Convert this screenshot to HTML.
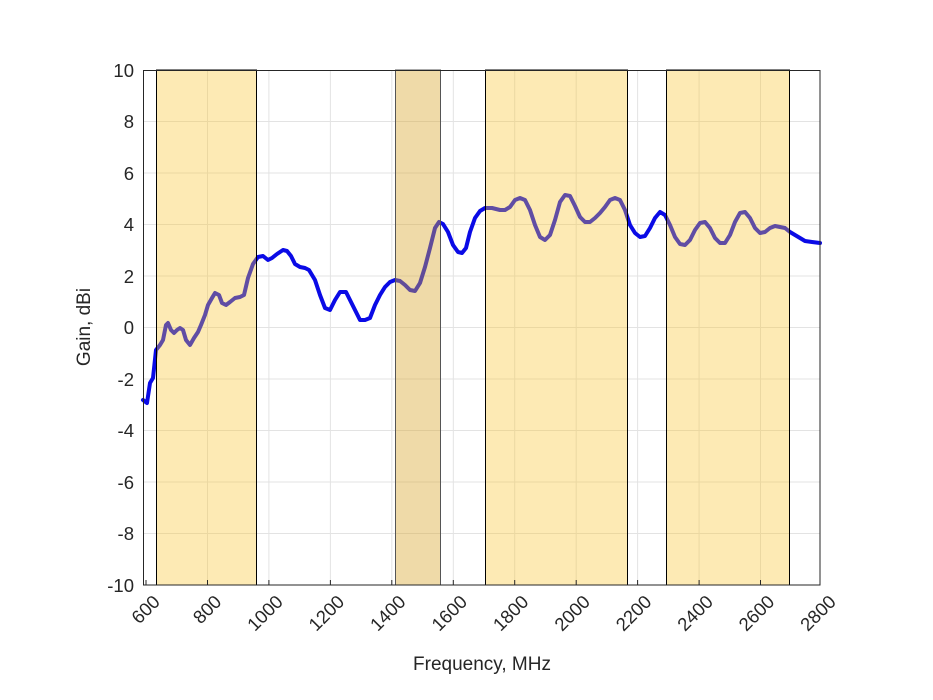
<!DOCTYPE html>
<html><head><style>body{margin:0;background:#fff}svg{display:block}</style></head><body>
<svg width="933" height="700" xmlns="http://www.w3.org/2000/svg" font-family="Liberation Sans, Arial, sans-serif">
<rect width="933" height="700" fill="#fff"/>
<g stroke="#e3e3e3" stroke-width="1">
<line x1="207.5" y1="70" x2="207.5" y2="585"/><line x1="268.9" y1="70" x2="268.9" y2="585"/><line x1="330.4" y1="70" x2="330.4" y2="585"/><line x1="391.8" y1="70" x2="391.8" y2="585"/><line x1="453.3" y1="70" x2="453.3" y2="585"/><line x1="514.7" y1="70" x2="514.7" y2="585"/><line x1="576.2" y1="70" x2="576.2" y2="585"/><line x1="637.6" y1="70" x2="637.6" y2="585"/><line x1="699.1" y1="70" x2="699.1" y2="585"/><line x1="760.5" y1="70" x2="760.5" y2="585"/>
<line x1="143" y1="121.5" x2="820" y2="121.5"/><line x1="143" y1="173" x2="820" y2="173"/><line x1="143" y1="224.5" x2="820" y2="224.5"/><line x1="143" y1="276" x2="820" y2="276"/><line x1="143" y1="327.5" x2="820" y2="327.5"/><line x1="143" y1="379" x2="820" y2="379"/><line x1="143" y1="430.5" x2="820" y2="430.5"/><line x1="143" y1="482" x2="820" y2="482"/><line x1="143" y1="533.5" x2="820" y2="533.5"/>
</g>
<polyline fill="none" stroke="#0a0ae6" stroke-width="4" stroke-linejoin="round" stroke-linecap="round" points="143,400 147,403 150,383 153,378 156,350 160,345 163,340 166,325 168,323 171,330 174,333 177,330 180,328 183,330 186,340 190,345 194,338 198,332 201,325 205,315 208,305 212,298 215,293 219,295 222,303 226,305 230,302 235,298 240,297 244,295 248,278 253,264 258,257 263,256 268,260 272,258 277,254 283,250 287,251 291,256 295,264 300,267 305,268 309,270 315,280 320,295 325,308 330,310 335,300 340,292 346,292 350,300 355,310 360,320 365,320 370,318 375,305 380,295 385,287 390,282 395,280 400,281 405,285 410,290 415,291 420,283 425,267 430,248 435,228 439,222 443,224 448,232 453,245 458,252 462,253 466,248 470,232 475,218 480,211 485,208 492,208 500,210 505,210 510,207 515,200 520,198 525,200 530,210 535,225 540,237 545,240 550,235 555,220 560,202 565,195 570,196 575,206 580,217 585,222 590,222 595,218 600,213 605,207 610,200 615,198 620,200 625,210 630,225 635,233 640,237 645,236 650,228 655,218 660,212 665,215 670,225 675,237 680,244 685,245 690,240 695,230 700,223 705,222 710,228 715,238 720,243 725,243 730,235 735,222 740,213 745,212 750,218 755,228 760,233 765,232 770,228 775,226 780,227 785,228 790,232 800,238 805,241 812,242 820,243"/>
<g fill="#f9c530" fill-opacity="0.36" stroke="#000" stroke-width="1">
<rect x="156.5" y="70" width="100" height="515"/>
<rect x="485.5" y="70" width="142" height="515"/>
<rect x="666.5" y="70" width="123" height="515"/>
</g>
<rect x="395.5" y="70" width="45" height="515" fill="#d9a830" fill-opacity="0.42" stroke="#555" stroke-width="1"/>
<rect x="143.5" y="70.5" width="676.5" height="514.5" fill="none" stroke="#262626" stroke-width="1"/>
<g stroke="#262626" stroke-width="1">
<line x1="146" y1="585" x2="146" y2="580"/><line x1="207.5" y1="585" x2="207.5" y2="580"/><line x1="268.9" y1="585" x2="268.9" y2="580"/><line x1="330.4" y1="585" x2="330.4" y2="580"/><line x1="391.8" y1="585" x2="391.8" y2="580"/><line x1="453.3" y1="585" x2="453.3" y2="580"/><line x1="514.7" y1="585" x2="514.7" y2="580"/><line x1="576.2" y1="585" x2="576.2" y2="580"/><line x1="637.6" y1="585" x2="637.6" y2="580"/><line x1="699.1" y1="585" x2="699.1" y2="580"/><line x1="760.5" y1="585" x2="760.5" y2="580"/>
</g>
<g font-size="18.5" fill="#262626" text-anchor="end">
<text x="134" y="77">10</text><text x="134" y="128">8</text><text x="134" y="180">6</text><text x="134" y="231">4</text><text x="134" y="283">2</text><text x="134" y="334">0</text><text x="134" y="386">-2</text><text x="134" y="437">-4</text><text x="134" y="489">-6</text><text x="134" y="540">-8</text><text x="134" y="592">-10</text>
<text transform="translate(161,603) rotate(-45)">600</text>
<text transform="translate(222.5,603) rotate(-45)">800</text>
<text transform="translate(284,603) rotate(-45)">1000</text>
<text transform="translate(345.4,603) rotate(-45)">1200</text>
<text transform="translate(406.8,603) rotate(-45)">1400</text>
<text transform="translate(468.3,603) rotate(-45)">1600</text>
<text transform="translate(529.7,603) rotate(-45)">1800</text>
<text transform="translate(591.2,603) rotate(-45)">2000</text>
<text transform="translate(652.6,603) rotate(-45)">2200</text>
<text transform="translate(714.1,603) rotate(-45)">2400</text>
<text transform="translate(775.5,603) rotate(-45)">2600</text>
<text transform="translate(837,603) rotate(-45)">2800</text>
</g>
<text x="482" y="670" font-size="19" fill="#262626" text-anchor="middle">Frequency, MHz</text>
<text transform="translate(90,327) rotate(-90)" font-size="19" fill="#262626" text-anchor="middle">Gain, dBi</text>
</svg>
</body></html>
